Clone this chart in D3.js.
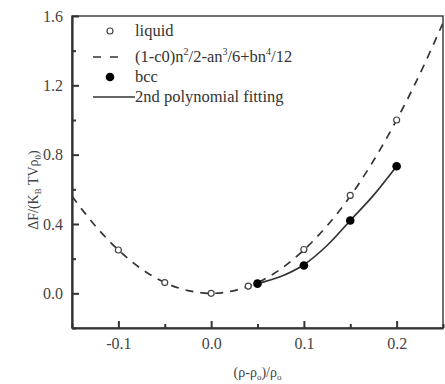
<!DOCTYPE html>
<html>
<head>
<meta charset="utf-8">
<script src="https://cdnjs.cloudflare.com/ajax/libs/d3/7.8.5/d3.min.js"></script>
<style>
	body { margin: 0; background: #fff; }
	svg { display: block; font-family: "Liberation Serif", "Times New Roman", serif; }
</style>
</head>
<body>
<div id="chart"></div>
<script>

const width = 445;
const height = 384;

const margin = { left: 72, top: 16, right: 2, bottom: 56 }

// open circles: liquid
const liquidX = [-0.1, -0.05, 0.0, 0.04, 0.1, 0.15, 0.2]
const liquidY = [0.25, 0.062, 0.0, 0.042, 0.253, 0.565, 1.0]

// filled circles: bcc
const bccX = [0.05, 0.1, 0.15, 0.2]
const bccY = [0.056, 0.161, 0.42, 0.733]

// dashed curve
const dashX = [-0.15, -0.125, -0.1, -0.075, -0.05, -0.025, 0.0, 0.025, 0.05, 0.075, 0.1, 0.125, 0.15, 0.175, 0.2, 0.225, 0.25]
const dashY = [0.56, 0.39, 0.25, 0.14, 0.062, 0.016, 0.0, 0.016, 0.062, 0.14, 0.25, 0.39, 0.56, 0.765, 1.0, 1.265, 1.56]

// solid fit through the bcc points
const fitX = [0.05, 0.075, 0.1, 0.125, 0.15, 0.175, 0.2]
const fitY = [0.056, 0.097, 0.165, 0.276, 0.42, 0.565, 0.733]

const xTicks = [-0.1, 0.0, 0.1, 0.2]
const xMinor = [-0.15, -0.05, 0.05, 0.15, 0.25]
const yTicks = [0.0, 0.4, 0.8, 1.2, 1.6]
const yMinor = [-0.2, 0.2, 0.6, 1.0, 1.4]

const legendLabels = ['liquid', 'formula', 'bcc', '2nd polynomial fitting']

const svg = d3.select('#chart')
	.append('svg')
	.attr('width', width)
	.attr('height', height)

const x = d3.scaleLinear()
	.domain([-0.15, 0.25])
	.range([margin.left, width - margin.right])

const y = d3.scaleLinear()
	.domain([-0.2, 1.6])
	.range([height - margin.bottom, margin.top])

const line = d3.line()
	.x(d => x(d[0]))
	.y(d => y(d[1]))
	.curve(d3.curveCatmullRom)

// plain hyphen for negatives, like the original
const fmt = d => d3.format('.1f')(d).replace('−', '-')

svg.append('clipPath')
	.attr('id', 'clip')
	.append('rect')
	.attr('x', x.range()[0])
	.attr('y', y.range()[1])
	.attr('width', x.range()[1] - x.range()[0])
	.attr('height', y.range()[0] - y.range()[1])

const plot = svg.append('g').attr('clip-path', 'url(#clip)')

plot.append('path')
	.attr('d', line(dashX.map((d, i) => [d, dashY[i]])))
	.attr('fill', 'none')
	.attr('stroke', '#333')
	.attr('stroke-width', 1.7)
	.attr('stroke-dasharray', '8,7')

plot.append('path')
	.attr('d', line(fitX.map((d, i) => [d, fitY[i]])))
	.attr('fill', 'none')
	.attr('stroke', '#333')
	.attr('stroke-width', 1.7)

plot.selectAll('.liq')
	.data(liquidX.map((d, i) => [d, liquidY[i]]))
	.enter()
	.append('circle')
	.attr('class', 'liq')
	.attr('cx', d => x(d[0]))
	.attr('cy', d => y(d[1]))
	.attr('r', 3)
	.attr('fill', '#fff')
	.attr('stroke', '#444')
	.attr('stroke-width', 1.2)

plot.selectAll('.bcc')
	.data(bccX.map((d, i) => [d, bccY[i]]))
	.enter()
	.append('circle')
	.attr('class', 'bcc')
	.attr('cx', d => x(d[0]))
	.attr('cy', d => y(d[1]))
	.attr('r', 4.3)
	.attr('fill', '#000')

// frame
svg.append('rect')
	.attr('x', x.range()[0])
	.attr('y', y.range()[1])
	.attr('width', x.range()[1] - x.range()[0])
	.attr('height', y.range()[0] - y.range()[1])
	.attr('fill', 'none')
	.attr('stroke', '#333')
	.attr('stroke-width', 1.4)

// bottom axis
const xAxis = svg.append('g')
	.attr('transform', 'translate(0,' + y.range()[0] + ')')
	.call(d3.axisBottom(x).tickValues(xTicks).tickSizeInner(-7).tickSizeOuter(0).tickPadding(10).tickFormat(fmt))

const xMin = svg.append('g')
	.attr('transform', 'translate(0,' + y.range()[0] + ')')
	.call(d3.axisBottom(x).tickValues(xMinor).tickSizeInner(-4).tickSizeOuter(0).tickFormat(''))

// left axis
const yAxis = svg.append('g')
	.attr('transform', 'translate(' + x.range()[0] + ',0)')
	.call(d3.axisLeft(y).tickValues(yTicks).tickSizeInner(-7).tickSizeOuter(0).tickPadding(9).tickFormat(fmt))

const yMin = svg.append('g')
	.attr('transform', 'translate(' + x.range()[0] + ',0)')
	.call(d3.axisLeft(y).tickValues(yMinor).tickSizeInner(-4).tickSizeOuter(0).tickFormat(''))

xMin.select('.domain').remove()
yMin.select('.domain').remove()

svg.selectAll('.domain')
	.attr('stroke', '#333')
	.attr('stroke-width', 2.2)

svg.selectAll('.tick line')
	.attr('stroke', '#333')
	.attr('stroke-width', 2)

svg.selectAll('.tick text')
	.attr('font-family', '"Liberation Serif", serif')
	.attr('font-size', 16)
	.attr('fill', '#444')

// axis titles
const xt = svg.append('text')
	.attr('x', (x.range()[0] + x.range()[1]) / 2)
	.attr('y', 377)
	.attr('text-anchor', 'middle')
	.attr('font-size', 14)
	.attr('fill', '#444')
xt.append('tspan').text('(ρ-ρ')
xt.append('tspan').attr('font-size', 9).attr('dy', 3).text('o')
xt.append('tspan').attr('dy', -3).text(')/ρ')
xt.append('tspan').attr('font-size', 9).attr('dy', 3).text('o')

const yt = svg.append('text')
	.attr('transform', 'translate(38,190) rotate(-90)')
	.attr('text-anchor', 'middle')
	.attr('font-size', 14)
	.attr('fill', '#444')
yt.append('tspan').text('ΔF/(K')
yt.append('tspan').attr('font-size', 9).attr('dy', 3).text('B')
yt.append('tspan').attr('dy', -3).text(' TVρ')
yt.append('tspan').attr('font-size', 9).attr('dy', 3).text('0')
yt.append('tspan').attr('dy', -3).text(')')

// legend
const legend = svg.append('g')
const lx = 135
const rows = [31, 57, 77, 97]

legend.append('circle')
	.attr('cx', 110).attr('cy', rows[0]).attr('r', 3)
	.attr('fill', '#fff').attr('stroke', '#444').attr('stroke-width', 1.2)

legend.append('line')
	.attr('x1', 93).attr('x2', 118).attr('y1', rows[1]).attr('y2', rows[1])
	.attr('stroke', '#333').attr('stroke-width', 1.7).attr('stroke-dasharray', '8,9')

legend.append('circle')
	.attr('cx', 110).attr('cy', rows[2]).attr('r', 4.3)
	.attr('fill', '#000')

legend.append('line')
	.attr('x1', 93).attr('x2', 135).attr('y1', rows[3]).attr('y2', rows[3])
	.attr('stroke', '#333').attr('stroke-width', 1.7)

const texts = legend.selectAll('.lt')
	.data(rows)
	.enter()
	.append('text')
	.attr('class', 'lt')
	.attr('x', lx)
	.attr('y', d => d + 5)
	.attr('font-size', 16.5)
	.attr('fill', '#333')

texts.filter((d, i) => i != 1).text((d, i) => [legendLabels[0], legendLabels[2], legendLabels[3]][i])

const f = d3.select(texts.nodes()[1])
f.append('tspan').text('(1-c0)n')
f.append('tspan').attr('font-size', 10).attr('dy', -7).text('2')
f.append('tspan').attr('dy', 7).text('/2-an')
f.append('tspan').attr('font-size', 10).attr('dy', -7).text('3')
f.append('tspan').attr('dy', 7).text('/6+bn')
f.append('tspan').attr('font-size', 10).attr('dy', -7).text('4')
f.append('tspan').attr('dy', 7).text('/12')

</script>
</body>
</html>
